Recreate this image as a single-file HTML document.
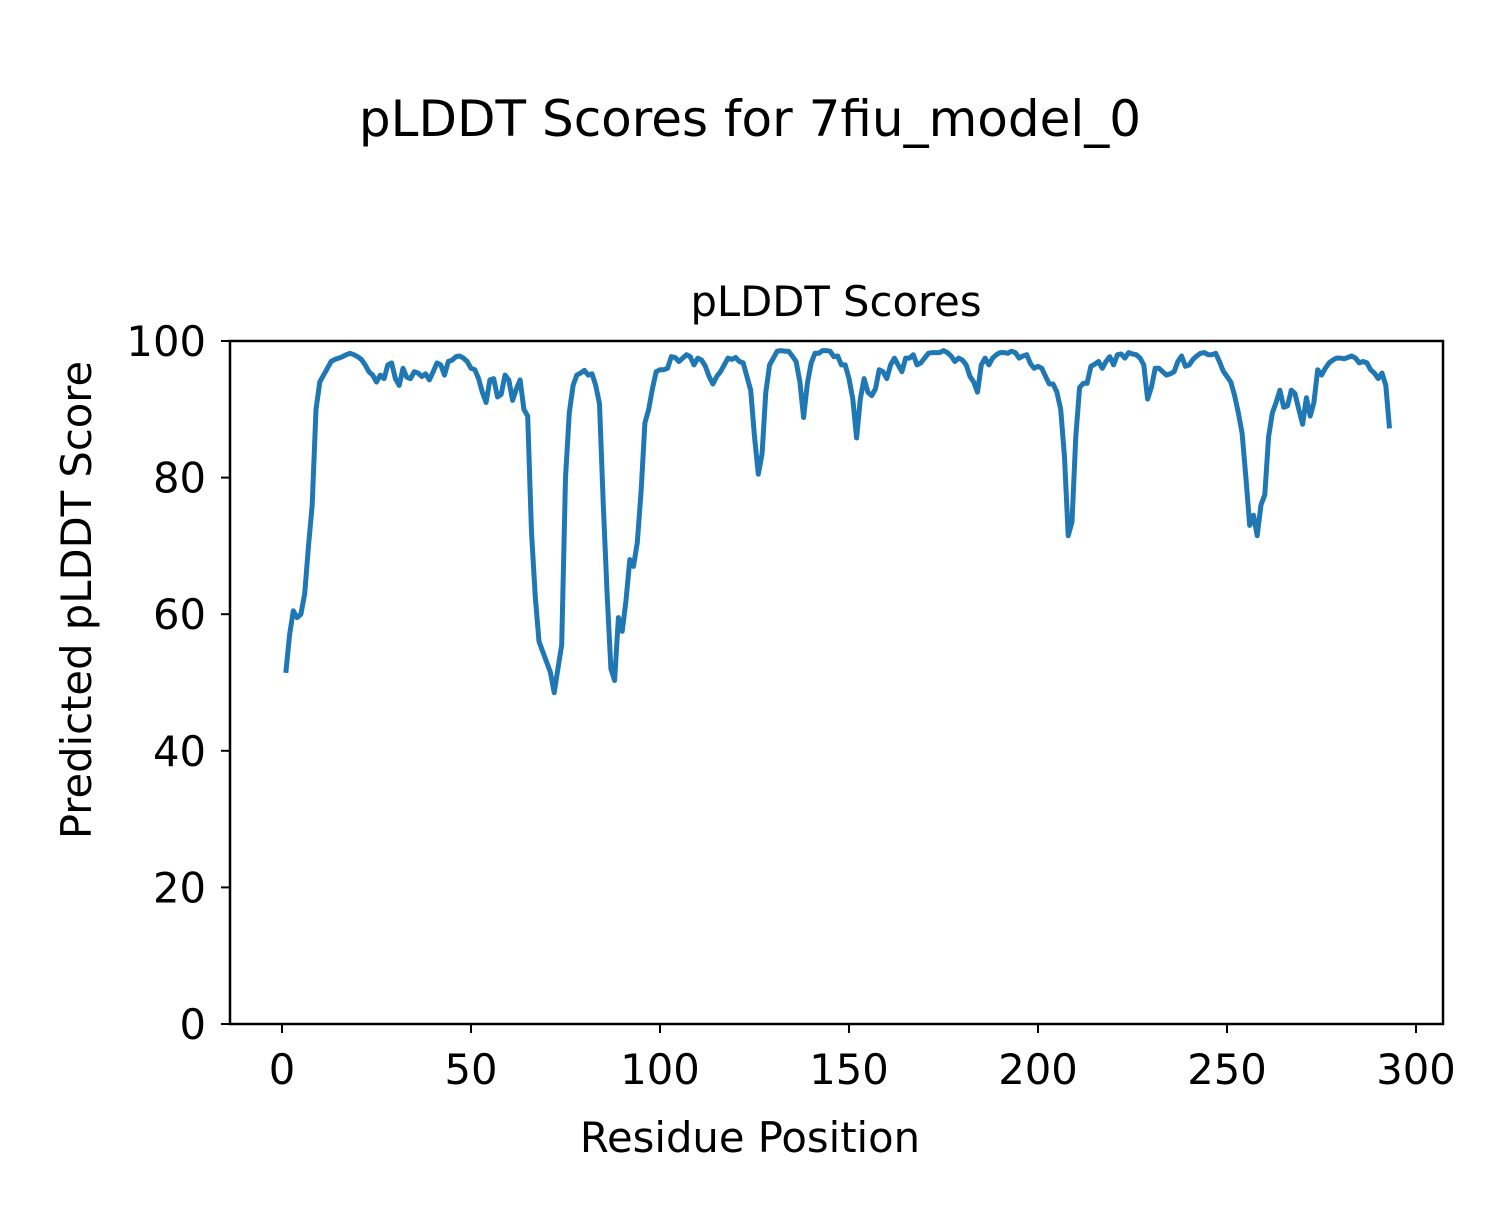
<!DOCTYPE html>
<html><head><meta charset="utf-8"><style>
body{margin:0;background:#fff;}
svg text{font-family:"DejaVu Sans","Liberation Sans",sans-serif;fill:#000;}
</style></head><body>
<svg id="chart" width="1500" height="1200" viewBox="0 0 1500 1200" xmlns="http://www.w3.org/2000/svg">
<rect width="1500" height="1200" fill="#fff"/>
<text x="750" y="136" font-size="50" text-anchor="middle">pLDDT Scores for 7fiu_model_0</text>
<text x="836" y="316" font-size="41.7" text-anchor="middle">pLDDT Scores</text>
<g id="ticks"></g>
<path id="line" fill="none" stroke="#1f77b4" stroke-width="5" stroke-linejoin="round"/>
<rect x="230" y="341" width="1213" height="683" fill="none" stroke="#000" stroke-width="2.5"/>
<text x="750" y="1152" font-size="41.7" text-anchor="middle">Residue Position</text>
<text transform="translate(91,600) rotate(-90)" font-size="41.7" text-anchor="middle">Predicted pLDDT Score</text>
</svg>
<script>
const xTicks=[0,50,100,150,200,250,300];
const yTicks=[0,20,40,60,80,100];
const scores=[51.4,57,60.5,59.5,60,63,70,76,90,94,95,96,97,97.3,97.5,97.7,98,98.2,98,97.7,97.3,96.5,95.5,95,94,95,94.5,96.5,96.8,94.5,93.5,96,94.7,94.5,95.5,95.3,94.8,95.2,94.3,95.5,96.8,96.5,95,97,97.2,97.7,97.8,97.5,97,96,95.8,94.5,92.5,91,94.3,94.5,91.8,92.2,95,94.3,91.3,93,94.3,90,89,72,62.5,56,54.5,53,51.5,48.5,52,55.5,80,89.5,93.5,95,95.3,95.7,95,95.2,93.5,90.8,76,63,52,50.3,59.5,57.5,62,68,67,70.5,78,88,90,93,95.5,95.8,95.8,96,97.7,97.6,97,97.5,98,97.7,96.5,97.5,97.2,96.3,94.8,93.7,94.8,95.5,96.5,97.5,97.3,97.6,97,96.8,94.8,92.8,86,80.5,83.5,92.5,96.5,97.5,98.5,98.6,98.5,98.5,97.8,97,94,88.8,93.8,96.8,98.2,98.2,98.6,98.6,98.5,97.7,97.8,96.5,96.5,94.5,91.5,85.8,91.5,94.5,92.5,92,93,95.8,95.5,94.5,96.5,97.5,96.5,95.5,97.5,97.5,98,96.5,96.8,97.5,98.2,98.3,98.3,98.3,98.6,98.3,97.8,97,97.5,97.2,96.5,94.8,94,92.5,96.5,97.5,96.5,97.5,98,98.3,98.3,98.2,98.5,98.3,97.5,97.8,98,96.7,96,96.3,96,94.8,93.7,93.7,92.5,90,83,71.5,73.5,86,93.2,93.8,93.8,96.3,96.6,97,96,97,97.7,96.5,98,98.1,97.5,98.3,98.1,98,97.5,96.5,91.5,93.2,96,96,95.5,95,95.2,95.5,97,97.8,96.3,96.5,97.3,97.8,98.2,98.3,98,98,98.2,97,95.6,94.8,94,92,89.5,86.5,80,73,74.5,71.5,76,77.5,86,89.5,91,92.8,90.3,90.5,92.8,92.3,90,87.8,91.7,89,91,95.8,95,96,96.8,97.2,97.5,97.5,97.4,97.6,97.8,97.5,96.8,97,96.8,95.8,95.3,94.5,95.3,93.5,87.2];
const X=v=>282+v*3.78, Y=v=>1024-v*6.83;
const NS="http://www.w3.org/2000/svg";
const g=document.getElementById('ticks');
function add(tag,attrs,txt){const e=document.createElementNS(NS,tag);for(const k in attrs)e.setAttribute(k,attrs[k]);if(txt!==undefined)e.textContent=txt;g.appendChild(e);return e;}
xTicks.forEach(t=>{
 const l=add('line',{x1:X(t),x2:X(t),y1:1024,y2:1033,stroke:'#000','stroke-width':2});
 
 
 const s=add('text',{x:X(t),y:1084,'font-size':41.7,'text-anchor':'middle'},String(t));
 
 
});
yTicks.forEach(t=>{
 const l=add('line',{x1:221,x2:230,y1:Y(t),y2:Y(t),stroke:'#000','stroke-width':2});
 
 
 const s=add('text',{x:206,y:Y(t)+15,'font-size':41.7,'text-anchor':'end'},String(t));
 
 
});
document.getElementById('line').setAttribute('d',scores.map((v,i)=>(i?'L':'M')+X(i+1).toFixed(1)+' '+Y(v).toFixed(1)).join(''));
</script>
</body></html>
